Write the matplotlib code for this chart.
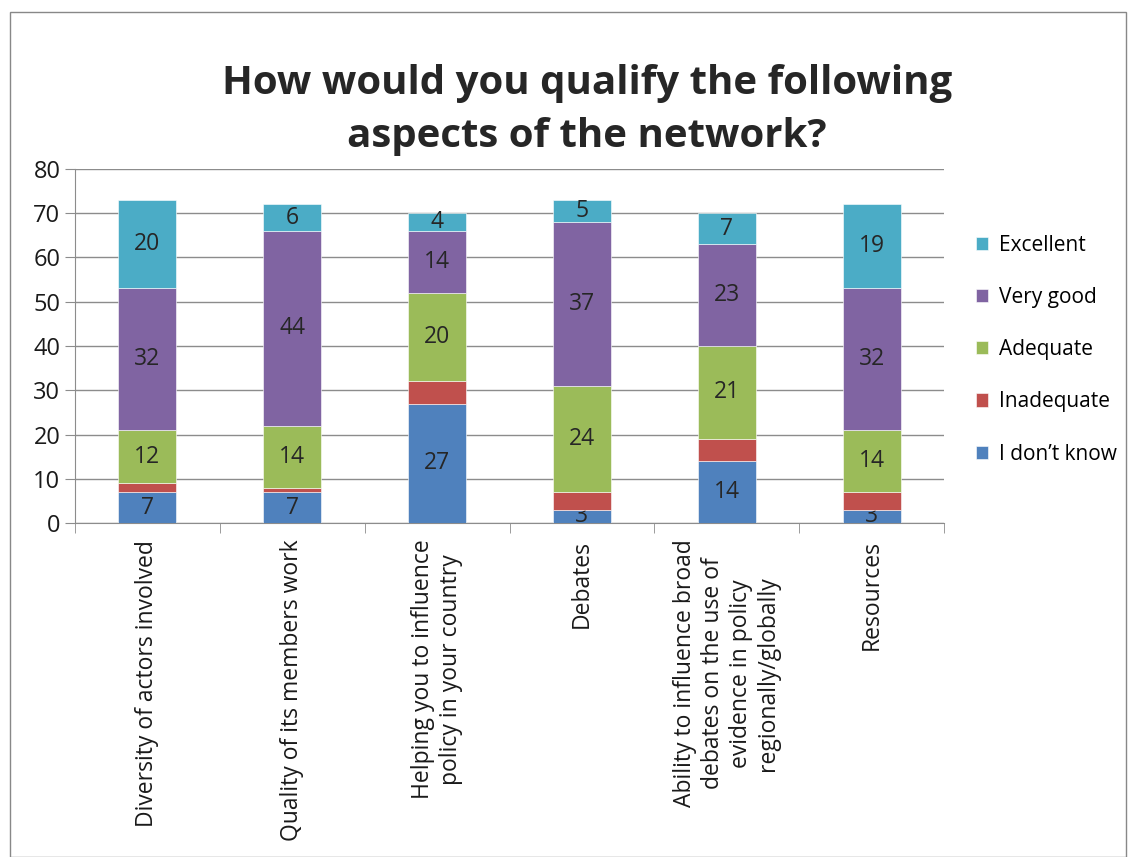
import matplotlib.pyplot as plt
import numpy as np
from matplotlib.patches import Rectangle

plt.rcParams['font.family'] = ['Open Sans', 'DejaVu Sans']

categories = ['Diversity of actors involved',
              'Quality of its members work',
              'Helping you to influence\npolicy in your country',
              'Debates',
              'Ability to influence broad\ndebates on the use of\nevidence in policy\nregionally/globally',
              'Resources']
series = ['I don\u2019t know', 'Inadequate', 'Adequate', 'Very good', 'Excellent']
dont_know = [7, 7, 27, 3, 14, 3]
inadequate = [2, 1, 5, 4, 5, 4]
adequate = [12, 14, 20, 24, 21, 14]
very_good = [32, 44, 14, 37, 23, 32]
excellent = [20, 6, 4, 5, 7, 19]

colors = ['#4F81BD', '#C0504D', '#9BBB59', '#8064A2', '#4BACC6']
show_labels = [True, False, True, True, True]

fig = plt.figure(figsize=(11.28, 8.57), dpi=100)
fig.patches.append(Rectangle((10/1128, 0), 1 - 10/1128 - 0.002, 1 - 12/857,
                             transform=fig.transFigure, fill=False,
                             edgecolor='#888888', linewidth=1))
ax = fig.add_axes([75/1128, 1 - 523/857, 869/1128, 354/857])

x = np.arange(len(categories))
bottom = np.zeros(len(categories))
handles = []
for name, vals, col, lab in zip(series, [dont_know, inadequate, adequate, very_good, excellent],
                                colors, show_labels):
    bars = ax.bar(x, vals, width=0.4, bottom=bottom, color=col, label=name,
                  edgecolor='white', linewidth=0.4, zorder=3)
    handles.append(bars)
    if lab:
        ax.bar_label(bars, labels=[str(v) for v in vals], label_type='center',
                     fontsize=16.5, color='#262626')
    bottom += np.array(vals)

ax.set_xlim(-0.5, len(categories) - 0.5)
ax.set_ylim(0, 80)
ax.set_yticks(range(0, 81, 10))
ax.yaxis.grid(True, color='#8c8c8c', linewidth=1, zorder=0)
ax.set_xticks(x)
ax.set_xticklabels(categories, rotation=90, fontsize=16.5, color='#1a1a1a',
                   ha='center', va='top', multialignment='center', linespacing=1.2)
ax.tick_params(axis='x', length=0, pad=12)
ax.set_xticks(np.arange(-0.5, len(categories)), minor=True)
ax.tick_params(axis='x', which='minor', length=7, color='#8c8c8c')
ax.tick_params(axis='y', labelsize=17, length=7, color='#8c8c8c', labelcolor='#1a1a1a')
for s in ['top', 'right']:
    ax.spines[s].set_visible(False)
ax.spines['left'].set_color('#8c8c8c')
ax.spines['bottom'].set_color('#8c8c8c')

fig.text(587/1128, 1 - 110/857, 'How would you qualify the following\naspects of the network?',
         ha='center', va='center', fontsize=29, fontweight='bold', color='#262626',
         linespacing=1.45)

ax.legend(handles[::-1], series[::-1], loc='center left', bbox_to_anchor=(1.015, 0.49),
          frameon=False, fontsize=15, handlelength=0.6, handleheight=0.6,
          labelspacing=1.5, handletextpad=0.5)

fig.savefig('out.png', dpi=100)
